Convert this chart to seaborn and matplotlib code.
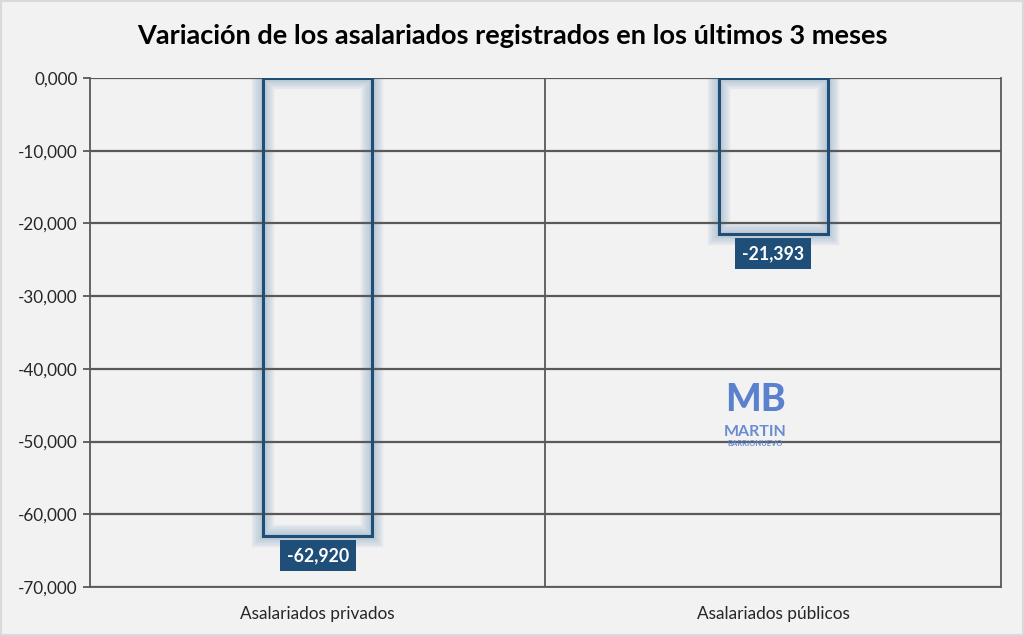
import matplotlib
matplotlib.use("Agg")
import matplotlib.pyplot as plt
import matplotlib.patheffects as pe
import matplotlib.ticker as mticker
import seaborn as sns
import pandas as pd

categories = ["Asalariados privados", "Asalariados públicos"]
values = [-62920, -21393]
value_labels = ["-62,920", "-21,393"]
title = "Variación de los asalariados registrados en los últimos 3 meses"

sns.set_theme(style="white")
plt.rcParams['font.family'] = ['Lato', 'DejaVu Sans']

bg = "#f2f2f2"
dark = "#1f4e79"
grid = "#595959"

fig = plt.figure(figsize=(10.24, 6.36), dpi=100, facecolor=bg)
ax = fig.add_axes([0.0879, 0.0770, 0.8896, 0.8004])
ax.set_facecolor(bg)

df = pd.DataFrame({"cat": categories, "val": values})

# glow layer (below gridlines)
sns.barplot(data=df, x="cat", y="val", ax=ax, width=0.24,
            facecolor="none", edgecolor="#a9bdd0", linewidth=3)
n_glow = len(ax.patches)
glow = [pe.Stroke(linewidth=w, foreground="#a9bdd0", alpha=0.2) for w in (16, 13, 10, 7, 5)]
for p in ax.patches:
    p.set_path_effects(glow + [pe.Normal()])
    p.set_alpha(0.3)
    p.set_zorder(0.3)

# outline layer (above gridlines)
sns.barplot(data=df, x="cat", y="val", ax=ax, width=0.24,
            facecolor="none", edgecolor=dark, linewidth=2.2)
for p in ax.patches[n_glow:]:
    p.set_zorder(3)

ax.set_ylim(-70000, 0)
ax.set_xlim(-0.5, 1.5)
ax.yaxis.set_major_locator(mticker.MultipleLocator(10000))
ax.yaxis.set_major_formatter(mticker.FuncFormatter(lambda v, pos: f"{v:,.0f}" if v != 0 else "0,000"))
ax.yaxis.grid(True, color=grid, linewidth=1.6)
ax.set_axisbelow(True)
ax.axvline(0.5, color=grid, linewidth=1.3, zorder=1)

for s in ["left", "bottom", "right"]:
    ax.spines[s].set_visible(True)
    ax.spines[s].set_color(grid)
    ax.spines[s].set_linewidth(1.3)
ax.spines["top"].set_visible(False)

ax.tick_params(axis="y", which="major", left=True, length=5, width=1.3, color=grid,
               labelsize=12.3, labelcolor="#262626", pad=4)
ax.tick_params(axis="x", bottom=False, labelsize=12.4, labelcolor="#262626", pad=8)
ax.set_xlabel("")
ax.set_ylabel("")

for i, (v, lab) in enumerate(zip(values, value_labels)):
    ax.annotate(lab, xy=(i, v), xytext=(0, -14.5), textcoords="offset points",
                ha="center", va="center", color="white", fontsize=12.8, fontweight="bold",
                bbox=dict(boxstyle="square,pad=0.38", facecolor=dark, edgecolor="none"),
                zorder=5)

# watermark
ax.text(0.961, -44300, "MB", ha="center", va="center", fontsize=27, fontweight="black",
        color="#4a74c9", alpha=0.9, zorder=2)
ax.text(0.961, -48700, "MARTIN", ha="center", va="center", fontsize=11.5, fontweight="bold",
        color="#5b82cf", alpha=0.9, zorder=2)
ax.text(0.961, -50300, "BARRIONUEVO", ha="center", va="center", fontsize=5.5, fontweight="bold",
        color="#5b82cf", alpha=0.9, zorder=2)

fig.text(0.5, 0.943, title, ha="center", va="center", fontsize=19.5, fontweight="bold", color="black")

fig.patches.append(plt.Rectangle((0.001, 0.001), 0.998, 0.998, transform=fig.transFigure,
                                 fill=False, edgecolor="#d9d9d9", linewidth=1.5))

fig.savefig("out.png", dpi=100, facecolor=bg)
